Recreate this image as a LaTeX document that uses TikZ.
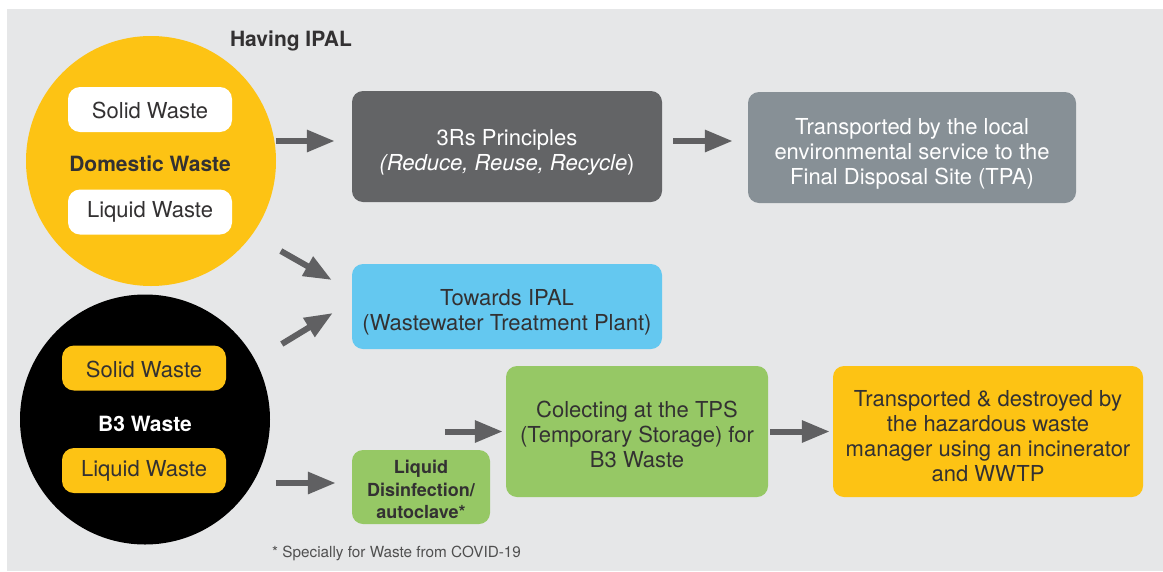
\documentclass[tikz,border=0pt]{standalone}
\usepackage{fontspec}
\setmainfont{TeX Gyre Heros}
\usetikzlibrary{arrows.meta}

\definecolor{bggray}{HTML}{E6E7E8}
\definecolor{wyellow}{HTML}{FDC314}
\definecolor{darkbox}{HTML}{636466}
\definecolor{bluebox}{HTML}{64C8F0}
\definecolor{greybox}{HTML}{879096}
\definecolor{greenbox}{HTML}{96C865}
\definecolor{arrgray}{HTML}{606062}
\definecolor{txtdark}{HTML}{333132}
\definecolor{notegray}{HTML}{505050}

% extra height on a first line, so the text sits a little lower in its box
\newcommand{\lowertext}[1]{\rule{0pt}{#1}}

\begin{document}
\begin{tikzpicture}[x=1pt,y=-1pt,
  every node/.style={font=\fontsize{22}{25}\selectfont,align=center,inner sep=0pt},
  box/.style={rounded corners=11pt,text=txtdark},
  tag/.style={rounded corners=12pt,minimum width=164pt,minimum height=45pt,text=txtdark},
  arr/.style={-{Triangle[length=28pt,width=21pt]},line width=6pt,draw=arrgray}]
  \useasboundingbox (0,0) rectangle (1163,571);
  \fill[bggray] (7,9) rectangle (1163,571);

  % left: the two kinds of waste
  \node[font=\bfseries\fontsize{21}{25}\selectfont,text=txtdark] (title) at (291,41) {Having IPAL};
  \node[circle,fill=wyellow,minimum size=250pt] (dom) at (151,161) {};
  \node[tag,fill=white] (domsolid) at (150,109.5) {\lowertext{19pt}Solid Waste};
  \node[font=\bfseries\fontsize{21}{25}\selectfont,text=txtdark] (domname) at (150,164) {Domestic Waste};
  \node[tag,fill=white] (domliquid) at (150,212) {Liquid Waste};

  \node[circle,fill=black,minimum size=250pt] (b3) at (145,419.5) {};
  \node[tag,fill=wyellow] (b3solid) at (144,368) {\lowertext{19pt}Solid Waste};
  \node[font=\bfseries\fontsize{21}{25}\selectfont,text=white] (b3name) at (145,424) {B3 Waste};
  \node[tag,fill=wyellow] (b3liquid) at (144,470.5) {Liquid Waste};

  % treatment steps
  \node[box,fill=darkbox,text=white,minimum width=310pt,minimum height=111pt] (threeR) at (507,146.5)
    {\lowertext{27pt}3Rs Principles\\\textit{(Reduce, Reuse, Recycle})};
  \node[box,fill=greybox,text=white,minimum width=328pt,minimum height=111pt] (tpa) at (912,147.5)
    {\lowertext{28pt}Transported by the local\\environmental service to the\\Final Disposal Site (TPA)};
  \node[box,fill=bluebox,minimum width=310pt,minimum height=85pt] (ipal) at (507,306.5)
    {\lowertext{28pt}Towards IPAL\\(Wastewater Treatment Plant)};
  \node[box,fill=greenbox,minimum width=138pt,minimum height=74pt,
    font=\bfseries\fontsize{18}{22.5}\selectfont] (disinf) at (421,487)
    {\lowertext{19pt}Liquid\\Disinfection/\\autoclave*};
  \node[box,fill=greenbox,minimum width=262pt,minimum height=131pt] (colect) at (637,431.5)
    {\lowertext{22pt}Colecting at the TPS\\(Temporary Storage) for\\B3 Waste};
  \node[box,fill=wyellow,minimum width=310pt,minimum height=131pt] (haz) at (988,431.5)
    {\lowertext{25pt}Transported \& destroyed by\\the hazardous waste\\manager using an incinerator\\and WWTP};

  \node[anchor=west,font=\fontsize{15.3}{18}\selectfont,text=notegray] (note) at (272,553)
    {* Specially for Waste from COVID-19};

  % arrows
  \draw[arr] ([xshift=-76pt,yshift=5.5pt]threeR.west) -- ([xshift=-17pt,yshift=5.5pt]threeR.west);
  \draw[arr] ([xshift=11pt,yshift=5.5pt]threeR.east) -- ([xshift=-15pt,yshift=6.5pt]tpa.west);
  \draw[arr] ([xshift=-71pt,yshift=55.5pt]ipal.west) -- ([xshift=-20pt,yshift=26.5pt]ipal.west);
  \draw[arr] ([xshift=-70pt,yshift=-37.5pt]ipal.west) -- ([xshift=-19pt,yshift=-6.5pt]ipal.west);
  \draw[arr] ([xshift=-76pt,yshift=4pt]disinf.west) -- ([xshift=-16pt,yshift=4pt]disinf.west);
  \draw[arr] ([xshift=-61pt]colect.west) -- ([xshift=-3pt]colect.west);
  \draw[arr] ([xshift=2pt]colect.east) -- ([xshift=-3pt]haz.west);
\end{tikzpicture}
\end{document}
